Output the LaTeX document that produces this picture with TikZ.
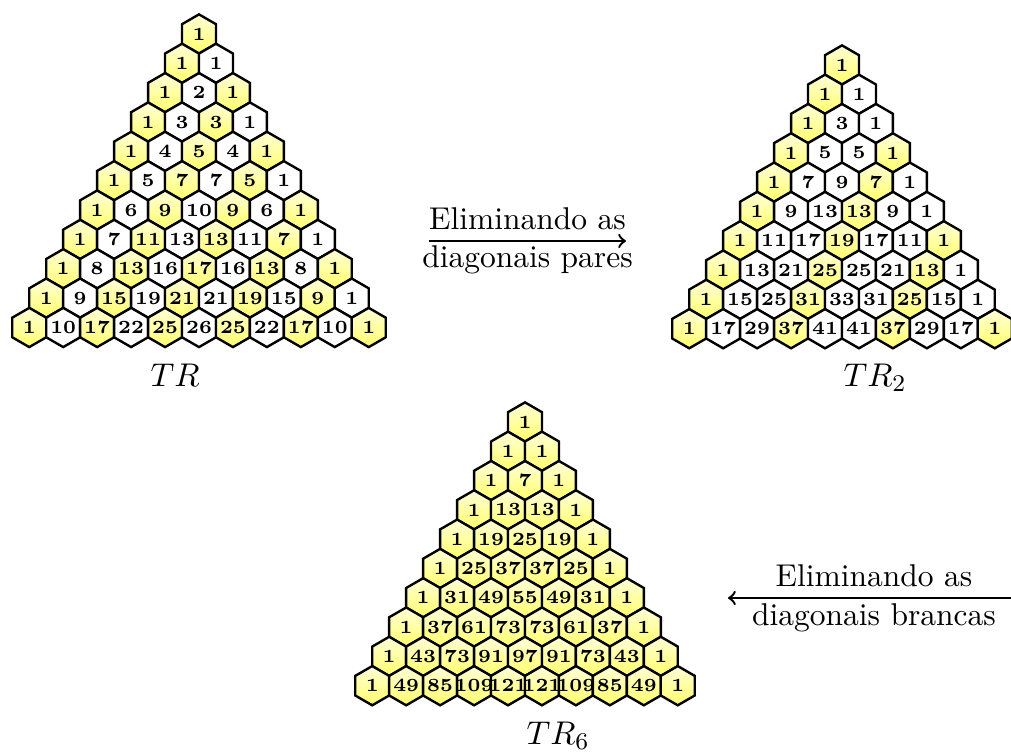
\documentclass[tikz,border=0pt]{standalone}
\usetikzlibrary{shapes.geometric}
\pgfdeclarelayer{fg}
\pgfsetlayers{main,fg}
\tikzset{
  hexcell/.style={regular polygon, regular polygon sides=6, shape border rotate=30,
    minimum size=13.07pt, inner sep=0pt, outer sep=0pt, draw=black, line width=0.8pt},
  hexY/.style={hexcell, top color=yellow!15, bottom color=yellow!58},
  hexW/.style={hexcell, fill=white},
  numtxt/.style={inner sep=0pt, font=\fontsize{6.2}{7}\selectfont\bfseries},
  arr/.style={->, line width=0.8pt},
  txt/.style={inner sep=0pt, anchor=base, font=\fontsize{10.5}{12}\selectfont},
  lbl/.style={inner sep=0pt, anchor=base west, font=\fontsize{10.95}{13}\selectfont},
}
\begin{document}
\begin{tikzpicture}[x=0.3333pt, y=-0.3333pt]
\useasboundingbox (0,0) rectangle (1011,752);
% ---- TR ----
\foreach \row [count=\rr from 0] in {{1},{1,1},{1,2,1},{1,3,3,1},{1,4,5,4,1},{1,5,7,7,5,1},{1,6,9,10,9,6,1},{1,7,11,13,13,11,7,1},{1,8,13,16,17,16,13,8,1},{1,9,15,19,21,21,19,15,9,1},{1,10,17,22,25,26,25,22,17,10,1}}{
  \foreach \v [count=\kk from 0] in \row {
    \pgfmathtruncatemacro{\m}{mod(\kk,2)}
    \ifnum\m=0
      \node[hexY] (tr-\rr-\kk) at ({199+(\kk-\rr/2)*33.95},{34+\rr*29.35}) {};
    \else
      \node[hexW] (tr-\rr-\kk) at ({199+(\kk-\rr/2)*33.95},{34+\rr*29.35}) {};
    \fi
    \begin{pgfonlayer}{fg}
      \node[numtxt] (tr-\rr-\kk-t) at (tr-\rr-\kk.center) {\v};
    \end{pgfonlayer}
  }
}
% ---- TR2 ----
\foreach \row [count=\rr from 0] in {{1},{1,1},{1,3,1},{1,5,5,1},{1,7,9,7,1},{1,9,13,13,9,1},{1,11,17,19,17,11,1},{1,13,21,25,25,21,13,1},{1,15,25,31,33,31,25,15,1},{1,17,29,37,41,41,37,29,17,1}}{
  \foreach \v [count=\kk from 0] in \row {
    \pgfmathtruncatemacro{\m}{mod(\kk,3)}
    \ifnum\m=0
      \node[hexY] (trb-\rr-\kk) at ({842+(\kk-\rr/2)*33.95},{65+\rr*29.3}) {};
    \else
      \node[hexW] (trb-\rr-\kk) at ({842+(\kk-\rr/2)*33.95},{65+\rr*29.3}) {};
    \fi
    \begin{pgfonlayer}{fg}
      \node[numtxt] (trb-\rr-\kk-t) at (trb-\rr-\kk.center) {\v};
    \end{pgfonlayer}
  }
}
% ---- TR6 ----
\foreach \row [count=\rr from 0] in {{1},{1,1},{1,7,1},{1,13,13,1},{1,19,25,19,1},{1,25,37,37,25,1},{1,31,49,55,49,31,1},{1,37,61,73,73,61,37,1},{1,43,73,91,97,91,73,43,1},{1,49,85,109,121,121,109,85,49,1}}{
  \foreach \v [count=\kk from 0] in \row {
    \node[hexY] (trc-\rr-\kk) at ({525+(\kk-\rr/2)*33.95},{422+\rr*29.3}) {};
    \begin{pgfonlayer}{fg}
      \node[numtxt] (trc-\rr-\kk-t) at (trc-\rr-\kk.center) {\v};
    \end{pgfonlayer}
  }
}
% ---- labels ----
\node[lbl] (lTR) at (150,387) {$TR$};
\node[lbl] (lTRb) at (843,387) {$TR_2$};
\node[lbl] (lTRc) at (526,745) {$TR_6$};
% ---- arrows ----
\coordinate (a1s) at (429,241);
\coordinate (a1e) at (626,241);
\draw[arr] (a1s) -- (a1e);
\node[txt] (t1a) at (527.5,230) {Eliminando as};
\node[txt] (t1b) at (527.5,268) {diagonais pares};
\coordinate (a2s) at (1011,598);
\coordinate (a2e) at (728,598);
\draw[arr] (a2s) -- (a2e);
\node[txt] (t2a) at (874,587) {Eliminando as};
\node[txt] (t2b) at (874,626) {diagonais brancas};
\end{tikzpicture}
\end{document}
